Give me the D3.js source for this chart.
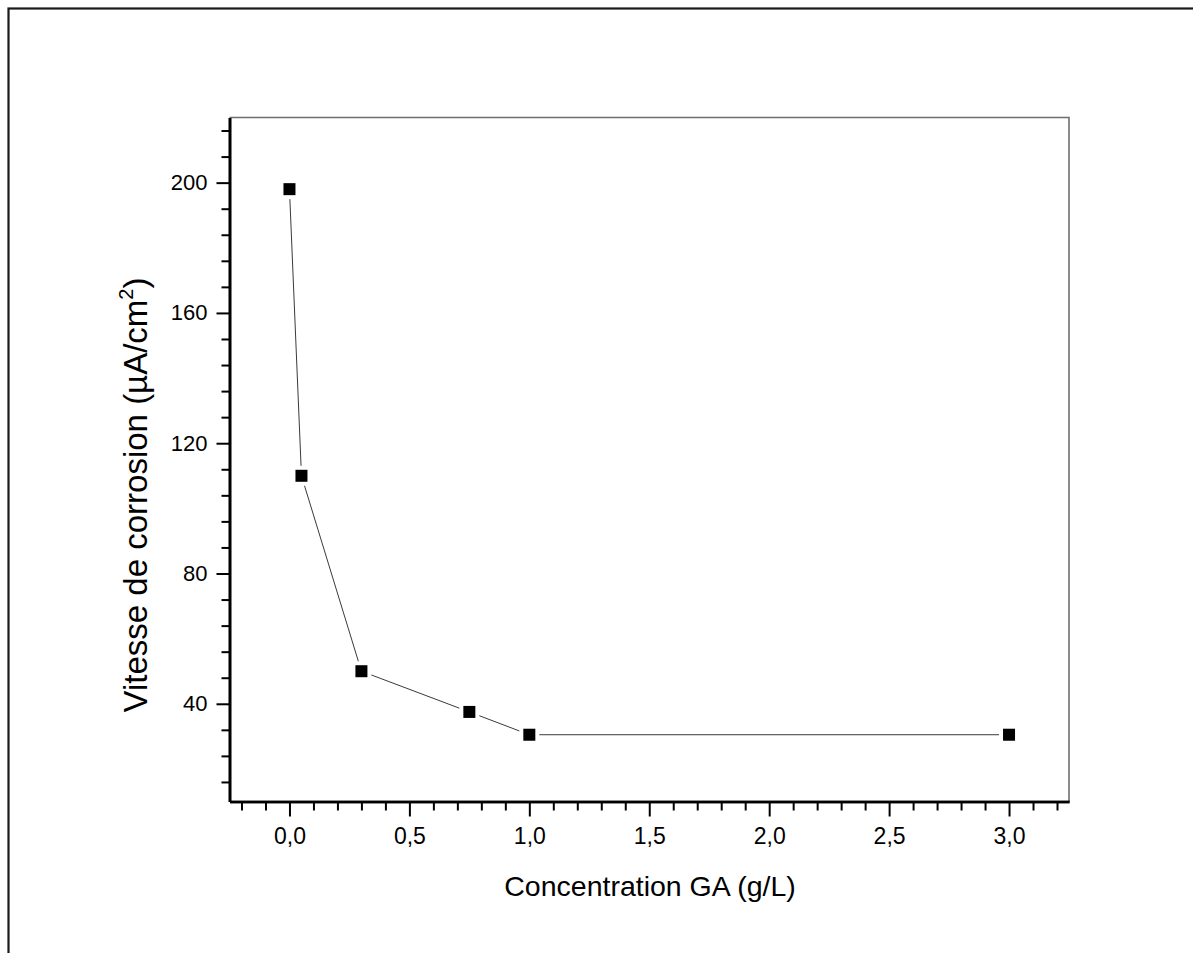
<!DOCTYPE html>
<html>
<head>
<meta charset="utf-8">
<script src="https://cdn.jsdelivr.net/npm/d3@7"></script>
<style>
  body { margin: 0; background: #fff; }
  svg { display: block; }
</style>
</head>
<body>
<svg id="svg"></svg>
<script>

// data
var concentration = [0, 0.05, 0.3, 0.75, 1.0, 3.0];
var vitesse = [198, 110, 50, 37.5, 30.5, 30.5];

var xMajorTicks = [0, 0.5, 1.0, 1.5, 2.0, 2.5, 3.0];
var yMajorTicks = [40, 80, 120, 160, 200];

var xLabel = "Concentration GA (g/L)";
var yLabel = "Vitesse de corrosion (\u00b5A/cm";

var width = 1193, height = 953;
var font = "'Liberation Sans', Arial, sans-serif";

var svg;

// plot box (careful: "top" is taken by window.top)
var plotLeft = 229.5, plotRight = 1069, plotTop = 117.5, plotBottom = 801.5;

function styleAxis(g){
    g.selectAll(".domain").attr("stroke", "#000").attr("stroke-width", 2.6);
    g.selectAll(".tick line").attr("stroke", "#000").attr("stroke-width", 2);
    g.selectAll(".tick text").attr("fill", "#000").style("font-family", font);
}

function init(){
    svg = d3.select("#svg")
        .attr("width", width)
        .attr("height", height);

    // outer frame (cut by the window on the right and bottom)
    svg.append("rect")
        .attr("x", 8.5).attr("y", 8.5)
        .attr("width", 1200).attr("height", 960)
        .attr("fill", "none")
        .attr("stroke", "#1a1a1a")
        .attr("stroke-width", 2.2);

    var x = d3.scaleLinear().domain([-0.25, 3.25]).range([plotLeft, plotRight]);
    var y = d3.scaleLinear().domain([10, 220]).range([plotBottom, plotTop]);

    var fr = d3.formatLocale({decimal: ",", thousands: " ", grouping: [3], currency: ["", ""]});
    var fmt = fr.format(".1f");

    // minor ticks
    var xMinor = d3.range(-2, 33).map(function(i){ return i / 10; })
        .filter(function(v){ return Math.abs(v * 2 - Math.round(v * 2)) > 1e-6; });
    var yMinor = d3.range(2, 28).map(function(i){ return i * 8; })
        .filter(function(v){ return v % 40 != 0; });

    // plot frame top/right
    svg.append("path")
        .attr("d", "M" + plotLeft + "," + plotTop + "H" + plotRight + "V" + plotBottom)
        .attr("fill", "none")
        .attr("stroke", "#6e6e6e")
        .attr("stroke-width", 1.6);

    // each axis call gets its own group, otherwise the second join wipes the minor ticks
    var gxMinor = svg.append("g").attr("transform", "translate(0," + plotBottom + ")")
        .call(d3.axisBottom(x).tickValues(xMinor).tickSize(9).tickSizeOuter(0).tickFormat(""));
    var gx = svg.append("g").attr("transform", "translate(0," + plotBottom + ")")
        .call(d3.axisBottom(x).tickValues(xMajorTicks).tickSize(15).tickSizeOuter(0).tickPadding(11).tickFormat(fmt));

    var gyMinor = svg.append("g").attr("transform", "translate(" + plotLeft + ",0)")
        .call(d3.axisLeft(y).tickValues(yMinor).tickSize(8).tickSizeOuter(0).tickFormat(""));
    var gy = svg.append("g").attr("transform", "translate(" + plotLeft + ",0)")
        .call(d3.axisLeft(y).tickValues(yMajorTicks).tickSize(13).tickSizeOuter(0).tickPadding(9).tickFormat(function(d){ return d; }));

    [gxMinor, gx, gyMinor, gy].forEach(styleAxis);
    gx.selectAll(".tick text").style("font-size", "23px");
    gy.selectAll(".tick text").style("font-size", "22px");

    // axis titles
    svg.append("text")
        .attr("x", 650).attr("y", 896)
        .attr("text-anchor", "middle")
        .style("font-family", font)
        .style("font-size", "28.5px")
        .text(xLabel);

    var yt = svg.append("text")
        .attr("transform", "translate(147,495) rotate(-90)")
        .attr("text-anchor", "middle")
        .style("font-family", font)
        .style("font-size", "33px");
    yt.append("tspan").text(yLabel);
    yt.append("tspan").attr("dy", -14).style("font-size", "20px").text("2");
    yt.append("tspan").attr("dy", 14).text(")");

    // line + markers
    var data = concentration.map(function(c, i){ return {x: c, y: vitesse[i]}; });

    svg.append("path")
        .datum(data)
        .attr("d", d3.line().x(function(d){ return x(d.x); }).y(function(d){ return y(d.y); }))
        .attr("fill", "none")
        .attr("stroke", "#3a3a3a")
        .attr("stroke-width", 1);

    var s = 12;
    svg.selectAll("rect.pt")
        .data(data)
        .enter().append("rect")
        .attr("class", "pt")
        .attr("x", function(d){ return x(d.x) - s / 2; })
        .attr("y", function(d){ return y(d.y) - s / 2; })
        .attr("width", s).attr("height", s)
        .attr("fill", "#000")
        .attr("stroke", "#fff")
        .attr("stroke-width", 8)
        .style("paint-order", "stroke");
}

document.addEventListener("DOMContentLoaded", function(event) {
    init();
});
</script>
</body>
</html>
